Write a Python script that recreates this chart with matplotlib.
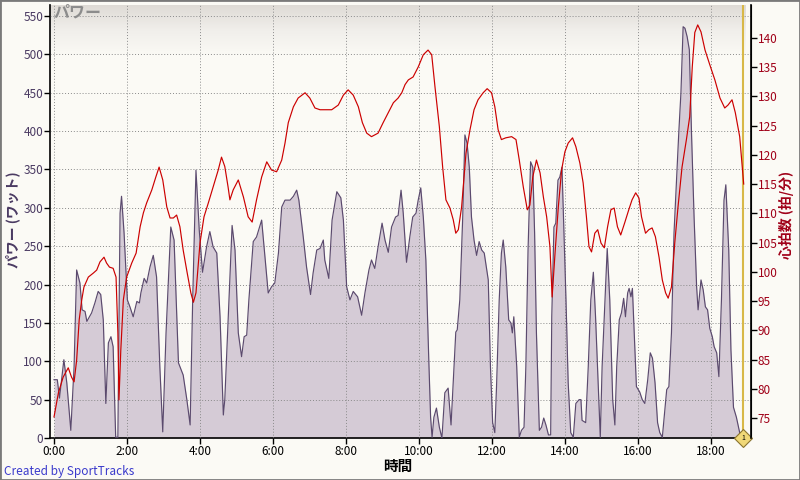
import matplotlib
matplotlib.use("Agg")
import matplotlib.pyplot as plt
import numpy as np
from matplotlib.patches import Rectangle
from matplotlib.colors import LinearSegmentedColormap

plt.rcParams['font.family'] = ['Noto Sans CJK JP', 'DejaVu Sans']

# ---- data (time in minutes) ----
power_t = [0.00, 0.09, 0.15, 0.27, 0.35, 0.46, 0.55, 0.62, 0.71, 0.77, 0.85, 0.90, 1.03, 1.12, 1.21, 1.28,
           1.35, 1.42, 1.49, 1.56, 1.62, 1.69, 1.75, 1.81, 1.85, 1.92, 2.01, 2.08, 2.17, 2.27, 2.34, 2.38,
           2.47, 2.54, 2.63, 2.72, 2.81, 2.90, 2.98, 3.07, 3.20, 3.29, 3.41, 3.54, 3.64, 3.73, 3.80, 3.89,
           3.98, 4.07, 4.18, 4.27, 4.36, 4.46, 4.55, 4.64, 4.68, 4.88, 4.96, 5.05, 5.14, 5.21, 5.28, 5.34,
           5.46, 5.55, 5.69, 5.78, 5.87, 5.96, 6.05, 6.15, 6.24, 6.33, 6.47, 6.56, 6.65, 6.71, 6.83, 6.92,
           7.03, 7.10, 7.20, 7.29, 7.38, 7.42, 7.53, 7.62, 7.75, 7.86, 7.93, 8.02, 8.11, 8.20, 8.32, 8.43,
           8.52, 8.63, 8.70, 8.79, 8.88, 8.99, 9.07, 9.16, 9.25, 9.36, 9.43, 9.51, 9.57, 9.66, 9.75, 9.83,
           9.92, 9.98, 10.05, 10.12, 10.19, 10.27, 10.32, 10.36, 10.41, 10.48, 10.56, 10.63, 10.71, 10.80,
           10.88, 10.94, 11.01, 11.05, 11.12, 11.20, 11.26, 11.32, 11.38, 11.44, 11.51, 11.58, 11.65, 11.72,
           11.79, 11.90, 11.96, 12.02, 12.08, 12.13, 12.20, 12.26, 12.31, 12.38, 12.46, 12.52, 12.56, 12.60,
           12.68, 12.75, 12.81, 12.88, 12.93, 12.99, 13.06, 13.12, 13.17, 13.22, 13.30, 13.36, 13.42, 13.48,
           13.55, 13.61, 13.64, 13.70, 13.75, 13.81, 13.86, 13.92, 13.97, 14.03, 14.09, 14.16, 14.23, 14.30,
           14.39, 14.44, 14.47, 14.57, 14.64, 14.71, 14.78, 14.84, 14.91, 14.97, 15.02, 15.10, 15.16, 15.23,
           15.31, 15.37, 15.42, 15.49, 15.55, 15.61, 15.66, 15.72, 15.76, 15.81, 15.85, 15.90, 15.96, 16.05,
           16.12, 16.19, 16.27, 16.34, 16.40, 16.47, 16.54, 16.60, 16.67, 16.72, 16.79, 16.85, 16.92, 16.99,
           17.06, 17.12, 17.18, 17.24, 17.29, 17.35, 17.41, 17.47, 17.54, 17.61, 17.65, 17.73, 17.79, 17.85,
           17.91, 17.97, 18.04, 18.09, 18.16, 18.22, 18.29, 18.36, 18.41, 18.49, 18.55, 18.62, 18.70, 18.79,
           18.88]
power_w = [76, 76, 52, 102, 72, 10, 93, 219, 202, 167, 165, 152, 163, 176, 191, 187,
           154, 45, 124, 132, 119, 1, 1, 293, 315, 267, 180, 171, 158, 178, 176, 189,
           208, 202, 223, 238, 210, 93, 8, 137, 275, 258, 98, 82, 50, 17, 180, 349,
           271, 216, 249, 269, 249, 241, 158, 30, 50, 277, 245, 137, 106, 132, 134, 180,
           256, 262, 284, 236, 189, 197, 202, 241, 301, 310, 310, 315, 323, 310, 262, 223,
           187, 215, 245, 247, 258, 232, 208, 284, 321, 313, 284, 197, 180, 191, 184, 160,
           189, 219, 232, 221, 249, 280, 258, 242, 275, 288, 290, 323, 293, 229, 262, 288,
           293, 310, 326, 288, 232, 102, 27, 1, 27, 39, 14, 0, 59, 65,
           17, 72, 138, 141, 180, 288, 395, 384, 353, 288, 258, 238, 256, 245,
           241, 206, 93, 20, 7, 72, 180, 241, 258, 223, 154, 150, 137, 158,
           93, 1, 10, 14, 93, 245, 360, 353, 267, 137, 10, 14, 26, 17,
           4, 4, 158, 275, 280, 336, 340, 353, 275, 180, 72, 7, 1, 45,
           50, 50, 23, 20, 93, 180, 216, 158, 72, 1, 93, 180, 247, 180,
           50, 17, 93, 154, 163, 182, 158, 189, 195, 184, 195, 137, 67, 60,
           50, 45, 76, 111, 104, 72, 20, 7, 1, 27, 63, 67, 137, 267,
           336, 397, 450, 536, 534, 523, 506, 397, 288, 197, 167, 206, 193, 171,
           167, 143, 132, 119, 111, 80, 180, 310, 330, 245, 115, 40, 27, 7,
           0]

hr_t = [0.00, 0.12, 0.25, 0.39, 0.48, 0.55, 0.62, 0.69, 0.76, 0.82, 0.94, 1.08, 1.17, 1.26, 1.37, 1.44,
        1.52, 1.62, 1.70, 1.75, 1.78, 1.83, 1.90, 1.99, 2.13, 2.25, 2.36, 2.45, 2.54, 2.68, 2.79, 2.88,
        2.98, 3.09, 3.18, 3.27, 3.36, 3.45, 3.54, 3.65, 3.75, 3.82, 3.89, 4.00, 4.11, 4.23, 4.36, 4.50,
        4.59, 4.68, 4.77, 4.82, 4.91, 5.05, 5.19, 5.32, 5.43, 5.55, 5.69, 5.83, 5.96, 6.10, 6.24, 6.33,
        6.42, 6.56, 6.69, 6.88, 7.01, 7.15, 7.29, 7.42, 7.61, 7.79, 7.93, 8.06, 8.20, 8.34, 8.45, 8.57,
        8.70, 8.88, 9.02, 9.16, 9.30, 9.43, 9.53, 9.62, 9.71, 9.84, 9.98, 10.12, 10.25, 10.35, 10.44, 10.56,
        10.65, 10.74, 10.85, 10.94, 11.01, 11.08, 11.17, 11.29, 11.40, 11.51, 11.62, 11.76, 11.87, 11.99,
        12.08, 12.17, 12.26, 12.38, 12.54, 12.66, 12.75, 12.86, 12.97, 13.04, 13.12, 13.22, 13.32, 13.41,
        13.50, 13.59, 13.65, 13.73, 13.82, 13.91, 14.00, 14.09, 14.21, 14.30, 14.41, 14.50, 14.59, 14.66,
        14.73, 14.82, 14.90, 14.99, 15.08, 15.17, 15.26, 15.35, 15.44, 15.53, 15.64, 15.75, 15.84, 15.94,
        16.03, 16.10, 16.21, 16.30, 16.39, 16.48, 16.58, 16.67, 16.76, 16.83, 16.92, 17.01, 17.10, 17.21,
        17.33, 17.42, 17.49, 17.56, 17.64, 17.73, 17.84, 17.97, 18.11, 18.25, 18.38, 18.47, 18.58, 18.67,
        18.79, 18.90]
hr_bpm = [75.2, 79.3, 82.0, 83.6, 82.0, 81.2, 84.9, 91.8, 95.2, 97.4, 99.1, 99.8, 100.3, 101.7, 102.5, 101.5,
          100.8, 100.6, 99.1, 89.5, 78.1, 86.6, 95.2, 99.1, 101.5, 103.2, 107.7, 110.1, 111.8, 114.0, 116.2, 117.9,
          115.7, 111.1, 109.2, 109.2, 109.7, 107.7, 103.7, 99.8, 96.4, 94.8, 96.4, 104.9, 109.4, 111.8, 114.5, 117.4,
          119.6, 118.0, 114.5, 112.3, 114.0, 115.7, 112.8, 109.4, 108.5, 112.3, 116.2, 118.8, 117.4, 117.1, 119.1, 122.0,
          125.5, 128.2, 129.7, 130.6, 129.7, 128.0, 127.7, 127.7, 127.7, 128.5, 130.2, 131.1, 130.2, 128.2, 125.5, 123.7,
          123.1, 123.7, 125.5, 127.2, 128.9, 129.7, 130.6, 132.0, 132.8, 133.3, 135.0, 137.1, 137.9, 137.1, 131.6, 124.8,
          117.9, 112.3, 110.9, 108.9, 106.6, 107.2, 111.1, 120.3, 124.3, 127.7, 129.4, 130.6, 131.3, 130.6,
          128.2, 124.3, 122.6, 122.9, 123.1, 122.6, 119.1, 114.5, 110.6, 111.4, 116.2, 119.1, 116.9, 112.8,
          109.4, 104.3, 95.7, 103.2, 111.1, 117.4, 120.5, 122.0, 122.9, 121.4, 118.6, 115.2, 109.4, 104.3,
          103.4, 106.6, 107.2, 104.9, 104.1, 107.7, 110.6, 110.9, 107.7, 106.3, 108.4, 110.6, 112.3, 113.5,
          112.6, 109.4, 106.6, 107.2, 107.5, 106.0, 102.5, 98.6, 96.4, 95.5, 97.4, 104.9, 111.1, 117.9,
          122.6, 126.5, 135.0, 140.9, 142.2, 141.0, 137.9, 135.4, 132.8, 129.7, 128.0, 128.5, 129.4, 127.2,
          123.1, 115.0]

x_ticks = [0, 2, 4, 6, 8, 10, 12, 14, 16, 18]
x_tick_labels = ['0:00', '2:00', '4:00', '6:00', '8:00', '10:00', '12:00', '14:00', '16:00', '18:00']
power_ticks = list(range(0, 551, 50))
hr_ticks = list(range(75, 141, 5))
marker_t = 18.88

# ---- styling ----
fig_bg = '#fbfaf5'
power_fill = '#d5cbd6'
power_line = '#5b4a6e'
hr_color = '#cc0000'
left_col = '#4a3a62'
right_col = '#a00018'

fig = plt.figure(figsize=(8, 4.8), dpi=100, facecolor=fig_bg)
ax = fig.add_axes([50/800, 42/480, 701/800, 433/480])
ax.set_facecolor(fig_bg)
ax2 = ax.twinx()

xmin, xmax = -0.11, 19.10
p_min, p_max = 0, 564.3
h_min, h_max = 71.6, 145.6

# gradient band at top of plot
grad = np.linspace(0, 1, 100).reshape(-1, 1)
cmap = LinearSegmentedColormap.from_list('g', ['#faf9f4', '#f0eeea', '#dedad5'])
ax.imshow(grad, extent=[xmin, 18.96, 500, p_max], origin='lower', cmap=cmap,
          aspect='auto', zorder=0, interpolation='bilinear')

ax.fill_between(power_t, power_w, 0, color=power_fill, zorder=2, linewidth=0)
ax.plot(power_t, power_w, color=power_line, lw=0.85, zorder=3)

ax.set_xlim(xmin, xmax)
ax.set_ylim(p_min, p_max)
ax.set_xticks(x_ticks)
ax.set_xticklabels(x_tick_labels)
ax.set_yticks(power_ticks)
ax.grid(True, color='#8a8a8a', linestyle=(0, (1, 2)), linewidth=0.7, zorder=1)
ax.set_axisbelow(False)
for gl in ax.get_xgridlines() + ax.get_ygridlines():
    gl.set_zorder(1)

ax.tick_params(axis='x', direction='out', length=4, width=1, colors='black', labelsize=8.5, pad=1)
ax.tick_params(axis='y', direction='out', length=4, width=1, color='black', labelcolor=left_col, labelsize=8.5, pad=1)

ax2.plot(hr_t, hr_bpm, color=hr_color, lw=0.85, zorder=4)
ax2.set_ylim(h_min, h_max)
ax2.set_yticks(hr_ticks)
ax2.tick_params(axis='y', direction='out', length=4, width=1, color='black', labelcolor=right_col, labelsize=8.5, pad=1)

for a in (ax, ax2):
    a.spines['top'].set_visible(False)
ax.spines['left'].set_linewidth(1.2)
ax.spines['bottom'].set_linewidth(1.2)
ax2.spines['right'].set_linewidth(1.2)
ax2.spines['left'].set_visible(False)
ax2.spines['bottom'].set_visible(False)

# marker
ax.axvline(marker_t, color='#d8b848', lw=1.5, zorder=5)
ax.plot([marker_t], [0], marker='D', markersize=9, markerfacecolor='#f0d878',
        markeredgecolor='#8a7430', markeredgewidth=0.8, zorder=6, clip_on=False)
ax.text(marker_t, 0, '1', fontsize=5, ha='center', va='center', zorder=7, color='black', clip_on=False)

ax.text(-0.02, 554, 'パワー', fontsize=11.5, color='#8c8c8c', style='italic', fontweight='bold',
        va='center', ha='left', zorder=6)

fig.text(13/800, 1 - 220/480, 'パワー (ワット)', rotation=90, ha='center', va='center',
         fontsize=10, color=left_col, fontweight='bold')
fig.text(786/800, 1 - 215/480, '心拍数 (拍/分)', rotation=90, ha='center', va='center',
         fontsize=10, color=right_col, fontweight='bold')
fig.text(398/800, 1 - 466/480, '時間', ha='center', va='center', fontsize=10.5,
         color='black', fontweight='bold')
fig.text(4/800, 1 - 472/480, 'Created by SportTracks', ha='left', va='center', fontsize=8.5,
         color='#3a3acc')

fig.patches.append(Rectangle((0, 0), 1, 1, transform=fig.transFigure, fill=False,
                             edgecolor='#7a7a7a', linewidth=2, zorder=10))

fig.savefig('out.png', dpi=100, facecolor=fig_bg)
